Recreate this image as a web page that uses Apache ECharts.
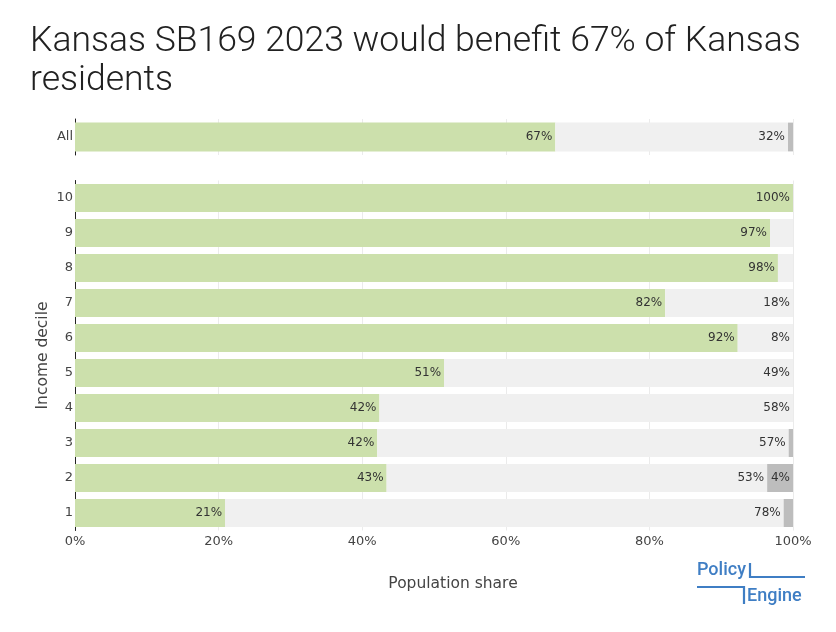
<!DOCTYPE html>
<html>
<head>
<meta charset="utf-8">
<script src="https://cdn.jsdelivr.net/npm/echarts@6/dist/echarts.min.js"></script>
<style>html,body{margin:0;padding:0;background:#fff;}#c{width:836px;height:632px;}</style>
</head>
<body>
<div id="c"></div>
<script>
// ---- data ----
const allCategory = ['All'];
const allGain = [66.9];
const allNoChange = [32.4];
const allLose = [0.7];

const deciles = ['1','2','3','4','5','6','7','8','9','10'];
const decileGain     = [20.9, 43.4, 42.1, 42.4, 51.4, 92.3, 82.2, 97.9, 96.8, 100];
const decileNoChange = [77.8, 53.0, 57.3, 57.6, 48.6, 7.7, 17.8, 2.1, 3.2, 0];
const decileLose     = [1.3, 3.6, 0.6, 0, 0, 0, 0, 0, 0, 0];

const xTicks = [0, 20, 40, 60, 80, 100];

// ---- styling ----
const GREEN = '#CCE0AC', LIGHT = '#F0F0F0', DARK = '#BDBDBD';
const FONT = '"DejaVu Sans", Verdana, sans-serif';
const labelCfg = {
  show: true, position: 'insideRight', distance: 3,
  color: '#333', fontSize: 12, fontFamily: FONT,
  formatter: p => p.value >= 3.5 ? Math.round(p.value) + '%' : ''
};
function bar(name, data, color, idx, stack) {
  return {
    type: 'bar', name, data, stack, xAxisIndex: idx, yAxisIndex: idx,
    barCategoryGap: '20%', itemStyle: { color }, label: labelCfg,
    emphasis: { disabled: true }, silent: true
  };
}
const chart = echarts.init(document.getElementById('c'), null, { renderer: 'canvas' });
const splitLine = { show: true, lineStyle: { color: '#ebebeb', width: 1 } };
chart.setOption({
  animation: false,
  backgroundColor: '#fff',
  title: {
    text: 'Kansas SB169 2023 would benefit 67% of Kansas\nresidents',
    left: 30, top: 23, padding: 0,
    textStyle: { fontFamily: 'Roboto', fontWeight: 300, fontSize: 35.5, lineHeight: 38.5, color: '#212121' }
  },
  grid: [
    { left: 75, right: 43, top: 119, height: 36 },
    { left: 75, right: 43, top: 180.5, height: 350 }
  ],
  xAxis: [
    { type: 'value', gridIndex: 0, min: 0, max: 100, interval: 20,
      axisLabel: { show: false }, axisLine: { show: false }, axisTick: { show: false }, splitLine },
    { type: 'value', gridIndex: 1, min: 0, max: 100, interval: 20,
      axisLabel: { formatter: v => xTicks.includes(v) ? v + '%' : '', color: '#444', fontSize: 13, fontFamily: FONT, margin: 5 },
      axisLine: { show: false }, axisTick: { show: false }, splitLine,
      name: 'Population share', nameLocation: 'middle', nameGap: 45,
      nameTextStyle: { color: '#444', fontSize: 15.5, fontFamily: FONT, padding: [0, 0, 0, 38] } }
  ],
  yAxis: [
    { type: 'category', gridIndex: 0, data: allCategory,
      axisLine: { show: true, lineStyle: { color: '#222', width: 1 } }, axisTick: { show: false },
      axisLabel: { color: '#444', fontSize: 13, fontFamily: FONT, margin: 2 } },
    { type: 'category', gridIndex: 1, data: deciles,
      axisLine: { show: true, lineStyle: { color: '#222', width: 1 } }, axisTick: { show: false },
      axisLabel: { color: '#444', fontSize: 13, fontFamily: FONT, margin: 2 },
      name: 'Income decile', nameLocation: 'middle', nameGap: 24, nameRotate: 90, nameMoveOverlap: false,
      nameTextStyle: { color: '#444', fontSize: 15.5, fontFamily: FONT } }
  ],
  series: [
    bar('Gain', allGain, GREEN, 0, 'a'),
    bar('No change', allNoChange, LIGHT, 0, 'a'),
    bar('Lose', allLose, DARK, 0, 'a'),
    bar('Gain', decileGain, GREEN, 1, 'd'),
    bar('No change', decileNoChange, LIGHT, 1, 'd'),
    bar('Lose', decileLose, DARK, 1, 'd')
  ],
  graphic: [
    { type: 'text', left: 697, top: 561, style: { text: 'Policy', fill: '#3F7EC4', font: '500 18px Roboto, sans-serif' } },
    { type: 'polyline', shape: { points: [[750, 563], [750, 577], [805, 577]] }, style: { stroke: '#3F7EC4', lineWidth: 2.2, fill: null } },
    { type: 'polyline', shape: { points: [[697, 587], [744, 587], [744, 604]] }, style: { stroke: '#3F7EC4', lineWidth: 2.2, fill: null } },
    { type: 'text', left: 747, top: 587, style: { text: 'Engine', fill: '#3F7EC4', font: '500 18px Roboto, sans-serif' } }
  ]
});
</script>
</body>
</html>
